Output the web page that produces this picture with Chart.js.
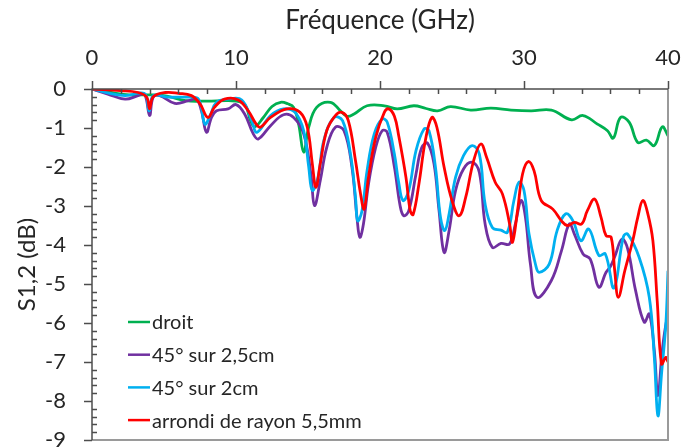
<!DOCTYPE html>
<html>
<head>
<meta charset="utf-8">
<script src="https://cdn.jsdelivr.net/npm/chart.js@4.4.1/dist/chart.umd.min.js"></script>
<style>
  html, body { margin: 0; background: #fff; }
  #wrap { width: 684px; height: 448px; }
</style>
</head>
<body>
<div id="wrap"><canvas id="chart" width="684" height="448"></canvas></div>
<script>
// S1,2 vs frequency for four bend shapes
const seriesNames = ["droit", "45° sur 2,5cm", "45° sur 2cm", "arrondi de rayon 5,5mm"];
const seriesColors = ["#00b050", "#7030a0", "#00b0f0", "#ff0000"];

const xTicks = [0, 10, 20, 30, 40];
const yTicks = [0, -1, -2, -3, -4, -5, -6, -7, -8, -9];

// [GHz, dB]
const droit = [
  [0, 0], [1.5, -0.1], [2.6, -0.15], [4, -0.15], [5.2, -0.18], [6.5, -0.3], [8, -0.31], [9.5, -0.3],
  [10.3, -0.33], [10.7, -0.45], [11.0, -0.8], [11.3, -0.97], [11.9, -0.73], [12.5, -0.45], [13.1, -0.34],
  [13.6, -0.38], [14.0, -0.47], [14.35, -0.9], [14.7, -1.62], [15.05, -0.98], [15.6, -0.47], [16.56, -0.34],
  [17.25, -0.56], [17.7, -0.7], [18.2, -0.64], [19.1, -0.43], [20.3, -0.43], [21.2, -0.51], [22.35, -0.43],
  [23.2, -0.5], [24.0, -0.56], [24.9, -0.45], [26.3, -0.54], [27.7, -0.49], [29.1, -0.54], [30.5, -0.56],
  [31.9, -0.54], [33.3, -0.79], [34.1, -0.68], [35.1, -0.9], [35.8, -1.07], [36.2, -1.26], [36.7, -0.73],
  [37.3, -0.85], [37.9, -1.37], [38.5, -1.31], [39.05, -1.45], [39.6, -0.97], [40, -1.2]
];

const sur25 = [
  [0, 0], [1.1, -0.13], [2.3, -0.26], [3.2, -0.17], [3.65, -0.13], [4.0, -0.68], [4.25, -0.21], [4.7, -0.17],
  [5.75, -0.37], [6.7, -0.3], [7.25, -0.26], [7.6, -0.56], [7.95, -1.11], [8.3, -0.73], [8.65, -0.56],
  [9.45, -0.51], [10.0, -0.4], [10.6, -0.64], [11.2, -1.15], [11.55, -1.28], [12.4, -0.94], [13.3, -0.66],
  [14.0, -0.73], [14.7, -1.15], [15.2, -2.18], [15.45, -2.99], [15.85, -2.35], [16.3, -1.5], [16.9, -0.98],
  [17.5, -1.07], [18.05, -2.0], [18.4, -3.29], [18.6, -3.8], [18.85, -3.46], [19.2, -2.44], [19.7, -1.5],
  [20.15, -1.07], [20.5, -1.11], [21.0, -2.0], [21.4, -3.0], [21.65, -3.25], [22.0, -3.12], [22.5, -2.18],
  [22.9, -1.5], [23.3, -1.39], [23.75, -1.92], [24.1, -3.12], [24.45, -4.19], [24.8, -3.63], [25.25, -2.6],
  [25.8, -2.05], [26.4, -1.88], [26.9, -2.14], [27.3, -3.46], [27.8, -4.06], [28.4, -3.96], [29.0, -3.97],
  [29.4, -3.46], [29.8, -2.86], [30.1, -3.29], [30.45, -4.5], [30.9, -5.34], [31.9, -4.91], [32.6, -4.15],
  [33.15, -3.46], [33.5, -3.72], [34.1, -4.23], [34.6, -4.36], [35.2, -5.08], [35.7, -4.7], [36.0, -4.55],
  [36.3, -4.3], [36.8, -3.85], [37.2, -4.1], [37.75, -5.17], [38.35, -5.98], [38.7, -5.77], [39.05, -6.71],
  [39.3, -7.86], [39.6, -6.71], [39.9, -5.94], [40, -5.97]
];

const sur2 = [
  [0, 0], [1.1, -0.1], [2.3, -0.17], [3.65, -0.12], [3.96, -0.56], [4.25, -0.17], [5.3, -0.21], [6.7, -0.21],
  [7.4, -0.26], [7.84, -0.9], [8.2, -0.68], [8.65, -0.34], [9.45, -0.26], [10.4, -0.28], [11.1, -0.81],
  [11.45, -1.11], [12.4, -0.68], [13.3, -0.51], [14.1, -0.6], [14.7, -1.07], [15.05, -2.0], [15.3, -2.6],
  [15.7, -2.25], [16.1, -1.32], [16.8, -0.73], [17.4, -0.81], [17.95, -1.67], [18.3, -2.78], [18.45, -3.38],
  [18.75, -3.12], [19.1, -2.1], [19.6, -1.15], [20.15, -0.77], [20.5, -0.85], [21.0, -1.67], [21.3, -2.4],
  [21.6, -2.86], [22.0, -2.6], [22.5, -1.58], [23.05, -1.03], [23.4, -1.07], [23.85, -2.0], [24.2, -3.29],
  [24.5, -3.63], [24.8, -3.2], [25.25, -2.26], [25.8, -1.71], [26.4, -1.45], [26.9, -1.67], [27.3, -2.95],
  [27.8, -3.55], [28.4, -3.62], [28.85, -3.67], [29.3, -2.86], [29.65, -2.39], [30.0, -2.6], [30.35, -3.72],
  [30.8, -4.5], [31.05, -4.7], [31.75, -4.49], [32.3, -3.63], [32.9, -3.2], [33.4, -3.38], [33.95, -3.89],
  [34.5, -3.59], [35.2, -4.27], [35.65, -4.23], [36.25, -5.1], [36.9, -3.79], [37.2, -3.72], [38.0, -4.32],
  [38.7, -5.34], [39.05, -6.88], [39.3, -8.38], [39.55, -7.31], [39.85, -6.03], [40, -4.66]
];

const arrondi = [
  [0, 0], [2.0, -0.04], [3.2, -0.09], [3.8, -0.21], [4.0, -0.51], [4.25, -0.2], [5.1, -0.09], [6.0, -0.11],
  [6.9, -0.17], [7.5, -0.38], [8.05, -0.73], [8.5, -0.47], [9.2, -0.26], [10.15, -0.28], [10.85, -0.56],
  [11.4, -0.9], [11.7, -0.98], [12.4, -0.73], [13.55, -0.51], [14.45, -0.6], [14.95, -0.98], [15.3, -1.92],
  [15.55, -2.52], [15.85, -1.92], [16.3, -1.07], [16.9, -0.68], [17.35, -0.6], [17.8, -0.81], [18.3, -1.84],
  [18.65, -2.69], [18.9, -3.08], [19.2, -2.26], [19.7, -1.24], [20.3, -0.6], [20.6, -0.51], [21.0, -0.7],
  [21.3, -1.2], [21.8, -2.26], [22.1, -3.12], [22.3, -3.22], [22.7, -2.44], [23.15, -1.32], [23.6, -0.73],
  [23.95, -0.98], [24.45, -2.0], [25.0, -2.86], [25.5, -3.25], [25.95, -2.78], [26.5, -1.84], [27.0, -1.41],
  [27.4, -1.75], [28.0, -2.39], [28.5, -2.69], [29.0, -3.46], [29.2, -3.93], [29.55, -3.12], [29.9, -2.18],
  [30.3, -1.86], [30.7, -2.1], [31.2, -2.86], [32.0, -3.08], [32.6, -3.38], [33.0, -3.5], [33.5, -3.42],
  [34.0, -3.46], [34.4, -3.12], [34.9, -2.82], [35.35, -3.29], [35.7, -3.76], [36.05, -3.8], [36.3, -4.66],
  [36.55, -5.34], [37.0, -4.66], [37.55, -3.89], [37.9, -3.29], [38.25, -2.86], [38.6, -3.2], [38.95, -3.89],
  [39.25, -5.43], [39.55, -7.05], [39.85, -6.88], [40, -7.0]
];

const FONT = "Lato, 'Open Sans', sans-serif";
const TEXT = "#262626";

function toPoints(rows) {
  return rows.map(([x, y]) => ({ x, y }));
}

// Excel-style ticks: majors outward, minors inward, plus the grey frame on right/bottom
const axisTicks = {
  id: "axisTicks",
  afterDatasetsDraw(chart) {
    const { ctx, chartArea: a, scales } = chart;
    const x = scales.x, y = scales.y;
    ctx.save();
    ctx.strokeStyle = "#9a9a9a";
    ctx.lineWidth = 2;
    ctx.beginPath();
    ctx.moveTo(a.right, a.top);
    ctx.lineTo(a.right, a.bottom);
    ctx.lineTo(a.left, a.bottom);
    ctx.stroke();

    ctx.strokeStyle = "#4d4d4d";
    ctx.lineWidth = 1.5;
    ctx.beginPath();
    ctx.moveTo(a.left, a.bottom);
    ctx.lineTo(a.left, a.top);
    ctx.lineTo(a.right, a.top);
    for (let v = 0; v <= 40; v += 2) {
      const px = Math.round(x.getPixelForValue(v)) + 0.5;
      const major = v % 10 === 0;
      ctx.moveTo(px, major ? a.top - 8 : a.top);
      ctx.lineTo(px, major ? a.top : a.top + 5);
    }
    for (let i = 0; i <= 45; i++) {
      const py = Math.round(y.getPixelForValue(-i * 0.2)) + 0.5;
      const major = i % 5 === 0;
      ctx.moveTo(major ? a.left - 8 : a.left, py);
      ctx.lineTo(major ? a.left : a.left + 5, py);
    }
    ctx.stroke();
    ctx.restore();
  },
};

// Legend sits inside the plot, lower left
const insideLegend = {
  id: "insideLegend",
  afterDraw(chart) {
    const { ctx, chartArea: a } = chart;
    ctx.save();
    ctx.font = `20px ${FONT}`;
    ctx.textBaseline = "middle";
    ctx.fillStyle = TEXT;
    chart.data.datasets.forEach((ds, i) => {
      const yy = a.bottom - 118 + i * 32.7;
      ctx.strokeStyle = ds.borderColor;
      ctx.lineWidth = 2.5;
      ctx.beginPath();
      ctx.moveTo(a.left + 36, yy);
      ctx.lineTo(a.left + 58, yy);
      ctx.stroke();
      ctx.fillText(ds.label, a.left + 60, yy + 1);
    });
    ctx.restore();
  },
};

const seriesData = [droit, sur25, sur2, arrondi];

new Chart(document.getElementById("chart"), {
  type: "line",
  data: {
    datasets: seriesData.map((rows, i) => ({
      label: seriesNames[i],
      data: toPoints(rows),
      borderColor: seriesColors[i],
      backgroundColor: seriesColors[i],
      borderWidth: 2.8,
      pointRadius: 0,
      tension: 0.4,
      fill: false,
      order: 3 - i,
    })),
  },
  options: {
    responsive: false,
    animation: false,
    layout: { padding: { left: 13, right: 16, top: 0, bottom: 8 } },
    plugins: {
      legend: { display: false },
      tooltip: { enabled: false },
    },
    scales: {
      x: {
        type: "linear",
        position: "top",
        min: 0,
        max: 40,
        afterBuildTicks(scale) {
          scale.ticks = xTicks.map((v) => ({ value: v }));
        },
        afterFit(scale) {
          scale.height = 89;
          scale.paddingLeft = 0;
          scale.paddingRight = 0;
        },
        ticks: { color: TEXT, font: { family: FONT, size: 22 }, padding: 10, maxRotation: 0 },
        grid: { display: false },
        border: { display: false },
        title: {
          display: true,
          text: "Fréquence (GHz)",
          color: TEXT,
          font: { family: FONT, size: 26 },
          padding: { top: 5, bottom: 0 },
        },
      },
      y: {
        type: "linear",
        min: -9,
        max: 0,
        afterBuildTicks(scale) {
          scale.ticks = yTicks.map((v) => ({ value: v }));
        },
        afterFit(scale) {
          scale.width = 79;
          scale.paddingTop = 0;
          scale.paddingBottom = 0;
        },
        ticks: { color: TEXT, font: { family: FONT, size: 22 }, padding: 18 },
        grid: { display: false },
        border: { display: false },
        title: {
          display: true,
          text: "S1,2 (dB)",
          color: TEXT,
          font: { family: FONT, size: 24 },
          padding: { top: 0, bottom: 0 },
        },
      },
    },
  },
  plugins: [axisTicks, insideLegend],
});
</script>
</body>
</html>
